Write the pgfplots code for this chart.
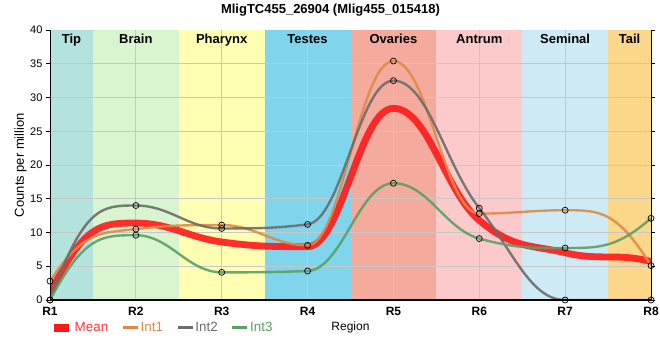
\documentclass[border=0pt]{standalone}
\usepackage{fontspec}
\setmainfont{Liberation Sans}
\usepackage{pgfplots}
\pgfplotsset{compat=1.18}
\definecolor{cTip}{RGB}{180,226,220}
\definecolor{cBrain}{RGB}{216,245,208}
\definecolor{cPhar}{RGB}{255,255,180}
\definecolor{cTest}{RGB}{128,212,235}
\definecolor{cOva}{RGB}{244,170,156}
\definecolor{cAnt}{RGB}{252,202,202}
\definecolor{cSem}{RGB}{206,235,245}
\definecolor{cTail}{RGB}{253,216,139}
\definecolor{cMean}{RGB}{255,25,25}
\definecolor{cInt1}{RGB}{222,138,70}
\definecolor{cInt2}{RGB}{108,108,108}
\definecolor{cInt3}{RGB}{90,160,100}
% ---- spline plot handler (clamped control points) ----
\makeatletter
\newcount\hc@n
\newcount\hc@i
\newcount\hc@j
\newcount\hc@k
\def\hc@start{\global\hc@n=0\relax}
\def\hc@point#1{%
  \pgf@process{#1}%
  \global\advance\hc@n by 1\relax
  \expandafter\xdef\csname hc@x@\the\hc@n\endcsname{\pgf@sys@tonumber\pgf@x}%
  \expandafter\xdef\csname hc@y@\the\hc@n\endcsname{\pgf@sys@tonumber\pgf@y}%
}
\def\hc@ctrl{%
  \hc@j=\hc@i \advance\hc@j by -1\relax
  \hc@k=\hc@i \advance\hc@k by 1\relax
  \edef\hc@X{\csname hc@x@\the\hc@i\endcsname}%
  \edef\hc@Y{\csname hc@y@\the\hc@i\endcsname}%
  \edef\hc@PX{\csname hc@x@\the\hc@j\endcsname}%
  \edef\hc@PY{\csname hc@y@\the\hc@j\endcsname}%
  \edef\hc@NX{\csname hc@x@\the\hc@k\endcsname}%
  \edef\hc@NY{\csname hc@y@\the\hc@k\endcsname}%
  \pgfmathsetmacro\hc@lx{(1.5*(\hc@X)+(\hc@PX))/2.5}%
  \pgfmathsetmacro\hc@ly{(1.5*(\hc@Y)+(\hc@PY))/2.5}%
  \pgfmathsetmacro\hc@rx{(1.5*(\hc@X)+(\hc@NX))/2.5}%
  \pgfmathsetmacro\hc@ry{(1.5*(\hc@Y)+(\hc@NY))/2.5}%
  \pgfmathsetmacro\hc@corr{((\hc@ry)-(\hc@ly))*((\hc@rx)-(\hc@X))/((\hc@rx)-(\hc@lx))+(\hc@Y)-(\hc@ry)}%
  \pgfmathsetmacro\hc@ly{(\hc@ly)+(\hc@corr)}%
  \pgfmathsetmacro\hc@ry{(\hc@ry)+(\hc@corr)}%
  \ifdim\hc@ly pt>\hc@PY pt
    \ifdim\hc@ly pt>\hc@Y pt
      \pgfmathsetmacro\hc@ly{max(\hc@PY,\hc@Y)}%
      \pgfmathsetmacro\hc@ry{2*(\hc@Y)-(\hc@ly)}%
    \fi
  \fi
  \ifdim\hc@ly pt<\hc@PY pt
    \ifdim\hc@ly pt<\hc@Y pt
      \pgfmathsetmacro\hc@ly{min(\hc@PY,\hc@Y)}%
      \pgfmathsetmacro\hc@ry{2*(\hc@Y)-(\hc@ly)}%
    \fi
  \fi
  \ifdim\hc@ry pt>\hc@NY pt
    \ifdim\hc@ry pt>\hc@Y pt
      \pgfmathsetmacro\hc@ry{max(\hc@NY,\hc@Y)}%
      \pgfmathsetmacro\hc@ly{2*(\hc@Y)-(\hc@ry)}%
    \fi
  \fi
  \ifdim\hc@ry pt<\hc@NY pt
    \ifdim\hc@ry pt<\hc@Y pt
      \pgfmathsetmacro\hc@ry{min(\hc@NY,\hc@Y)}%
      \pgfmathsetmacro\hc@ly{2*(\hc@Y)-(\hc@ry)}%
    \fi
  \fi
  \expandafter\xdef\csname hc@lx@\the\hc@i\endcsname{\hc@lx}%
  \expandafter\xdef\csname hc@ly@\the\hc@i\endcsname{\hc@ly}%
  \expandafter\xdef\csname hc@rx@\the\hc@i\endcsname{\hc@rx}%
  \expandafter\xdef\csname hc@ry@\the\hc@i\endcsname{\hc@ry}%
}
\def\hc@loop{%
  \ifnum\hc@i<\hc@n
    \hc@ctrl
    \advance\hc@i by 1\relax
    \expandafter\hc@loop
  \fi
}
\def\hc@pathloop{%
  \ifnum\hc@i<\hc@n
    \hc@k=\hc@i \advance\hc@k by 1\relax
    \pgfpathcurveto
      {\pgfqpoint{\csname hc@rx@\the\hc@i\endcsname pt}{\csname hc@ry@\the\hc@i\endcsname pt}}%
      {\pgfqpoint{\csname hc@lx@\the\hc@k\endcsname pt}{\csname hc@ly@\the\hc@k\endcsname pt}}%
      {\pgfqpoint{\csname hc@x@\the\hc@k\endcsname pt}{\csname hc@y@\the\hc@k\endcsname pt}}%
    \advance\hc@i by 1\relax
    \expandafter\hc@pathloop
  \fi
}
\def\hc@doend{%
  \hc@i=2\relax
  \hc@loop
  \pgfmathsetmacro\hc@tmp{(\csname hc@x@1\endcsname)+0.4*((\csname hc@x@2\endcsname)-(\csname hc@x@1\endcsname))}%
  \expandafter\xdef\csname hc@rx@1\endcsname{\hc@tmp}%
  \expandafter\xdef\csname hc@ry@1\endcsname{\csname hc@y@2\endcsname}%
  \hc@j=\hc@n \advance\hc@j by -1\relax
  \pgfmathsetmacro\hc@tmp{(\csname hc@x@\the\hc@n\endcsname)-0.4*((\csname hc@x@\the\hc@n\endcsname)-(\csname hc@x@\the\hc@j\endcsname))}%
  \expandafter\xdef\csname hc@lx@\the\hc@n\endcsname{\hc@tmp}%
  \expandafter\xdef\csname hc@ly@\the\hc@n\endcsname{\csname hc@y@\the\hc@j\endcsname}%
  \pgf@plot@first@action{\pgfqpoint{\csname hc@x@1\endcsname pt}{\csname hc@y@1\endcsname pt}}%
  \hc@i=1\relax
  \hc@pathloop
}
\def\hc@end{\ifnum\hc@n>1 \expandafter\hc@doend\fi}
\pgfdeclareplothandler{\pgfplothandlerhcspline}{}{%
  start=\hc@start,
  point macro=\hc@point,
  end=\hc@end,
}
\tikzset{hc spline/.code={\def\tikz@plot@handler{\pgfplothandlerhcspline}}}
\makeatother
\begin{document}
\begin{tikzpicture}
\useasboundingbox (0pt,0pt) rectangle (660pt,360pt);
\begin{axis}[
  at={(50pt,60pt)}, anchor=south west,
  width=601pt, height=270pt, scale only axis,
  xmin=1, xmax=8, ymin=0, ymax=40,
  xtick={1,2,3,4,5,6,7,8},
  xticklabels={R1,R2,R3,R4,R5,R6,R7,R8},
  ytick={0,5,10,15,20,25,30,35,40},
  /pgf/number format/assume math mode=true,
  axis line style={line width=0.8pt},
  tick align=outside, major tick length=4pt,
  xtick style={draw=none},
  ytick style={black, line width=0.8pt},
  yticklabel style={font=\fontsize{11}{13}\selectfont},
  xticklabel style={font=\bfseries\fontsize{12}{14}\selectfont},
  every axis title shift=0pt,
  title={\bfseries MligTC455\_26904 (Mlig455\_015418)},
  title style={at={(axis description cs:0.4667,1.074)}, anchor=center, font=\fontsize{13}{15}\selectfont},
  ylabel={Counts per million},
  ylabel style={at={(axis description cs:-0.049,0.5)}, anchor=center, font=\fontsize{13}{15}\selectfont},
  xlabel={Region},
  xlabel style={at={(axis description cs:0.5,-0.1025)}, anchor=center, font=\fontsize{12}{14}\selectfont},
  legend style={at={(axis description cs:0.0,-0.1025)}, anchor=west, legend columns=4,
    draw=none, fill=none, inner sep=0pt, font=\fontsize{13.4}{15}\selectfont,
    nodes={inner sep=1.5pt},
    /tikz/every odd column/.append style={column sep=0pt},
    /tikz/every even column/.append style={column sep=12pt}},
  legend image code/.code={\draw[#1] (0pt,0pt) -- (15pt,0pt);},
]
% background bands
\addplot[fill=cTip, draw=none, forget plot] coordinates {(1,40)(1.5,40)} \closedcycle;
\addplot[fill=cBrain, draw=none, forget plot] coordinates {(1.5,40)(2.5,40)} \closedcycle;
\addplot[fill=cPhar, draw=none, forget plot] coordinates {(2.5,40)(3.5,40)} \closedcycle;
\addplot[fill=cTest, draw=none, forget plot] coordinates {(3.5,40)(4.5,40)} \closedcycle;
\addplot[fill=cOva, draw=none, forget plot] coordinates {(4.5,40)(5.5,40)} \closedcycle;
\addplot[fill=cAnt, draw=none, forget plot] coordinates {(5.5,40)(6.5,40)} \closedcycle;
\addplot[fill=cSem, draw=none, forget plot] coordinates {(6.5,40)(7.5,40)} \closedcycle;
\addplot[fill=cTail, draw=none, forget plot] coordinates {(7.5,40)(8,40)} \closedcycle;

% grid lines
\pgfplotsinvokeforeach{2,3,4,5,6,7}{
  \addplot[black!22, line width=0.8pt, forget plot] coordinates {(#1,0)(#1,40)};
}
\pgfplotsinvokeforeach{5,10,15,20,25,30,35}{
  \addplot[black!22, line width=0.8pt, forget plot] coordinates {(1,#1)(8,#1)};
}

% series
\addplot[cMean, opacity=0.9, line width=6.8pt, hc spline, no marks, forget plot] coordinates {
 (1,0.93)(2,11.4)(3,8.6)(4,7.9)(5,28.4)(6,11.8)(7,7.0)(8,5.7)};
\addplot[cInt1, opacity=0.9, line width=2.4pt, hc spline, mark=o, mark size=3pt,
  mark options={draw=black, line width=0.7pt, opacity=1}, forget plot] coordinates {
 (1,2.8)(2,10.5)(3,11.1)(4,8.1)(5,35.4)(6,12.8)(7,13.3)(8,5.1)};
\addplot[cInt2, opacity=0.9, line width=2.4pt, hc spline, mark=o, mark size=3pt,
  mark options={draw=black, line width=0.7pt, opacity=1}, forget plot] coordinates {
 (1,0)(2,14.0)(3,10.6)(4,11.2)(5,32.5)(6,13.6)(7,0)(8,0)};
\addplot[cInt3, opacity=0.9, line width=2.4pt, hc spline, mark=o, mark size=3pt,
  mark options={draw=black, line width=0.7pt, opacity=1}, forget plot] coordinates {
 (1,0)(2,9.6)(3,4.1)(4,4.3)(5,17.3)(6,9.1)(7,7.7)(8,12.1)};

% band labels
\node[anchor=north, font=\bfseries\fontsize{13}{15}\selectfont, inner sep=0pt] at (axis cs:1.25,39.4) {Tip};
\node[anchor=north, font=\bfseries\fontsize{13}{15}\selectfont, inner sep=0pt] at (axis cs:2,39.4) {Brain};
\node[anchor=north, font=\bfseries\fontsize{13}{15}\selectfont, inner sep=0pt] at (axis cs:3,39.4) {Pharynx};
\node[anchor=north, font=\bfseries\fontsize{13}{15}\selectfont, inner sep=0pt] at (axis cs:4,39.4) {Testes};
\node[anchor=north, font=\bfseries\fontsize{13}{15}\selectfont, inner sep=0pt] at (axis cs:5,39.4) {Ovaries};
\node[anchor=north, font=\bfseries\fontsize{13}{15}\selectfont, inner sep=0pt] at (axis cs:6,39.4) {Antrum};
\node[anchor=north, font=\bfseries\fontsize{13}{15}\selectfont, inner sep=0pt] at (axis cs:7,39.4) {Seminal};
\node[anchor=north, font=\bfseries\fontsize{13}{15}\selectfont, inner sep=0pt] at (axis cs:7.75,39.4) {Tail};

% thick left/bottom axis
\draw[black, line width=2pt] (rel axis cs:0,1) -- (rel axis cs:0,0) -- (rel axis cs:1,0);

\addlegendimage{cMean, line width=8pt}
\addlegendentry{\textcolor{cMean!85}{Mean}}
\addlegendimage{cInt1, line width=2.4pt}
\addlegendentry{\textcolor{cInt1}{Int1}}
\addlegendimage{cInt2, line width=2.4pt}
\addlegendentry{\textcolor{cInt2}{Int2}}
\addlegendimage{cInt3, line width=2.4pt}
\addlegendentry{\textcolor{cInt3}{Int3}}
\end{axis}
\end{tikzpicture}
\end{document}
